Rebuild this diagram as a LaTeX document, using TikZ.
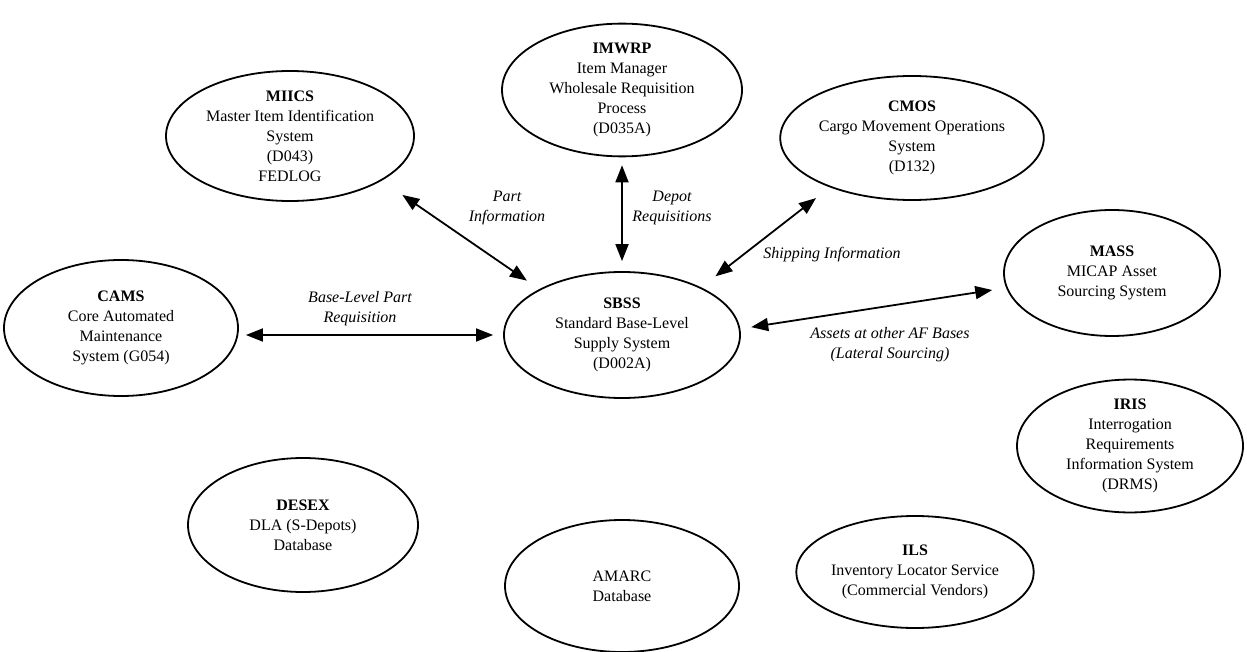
\documentclass[tikz,border=0pt]{standalone}
\usepackage{fontspec}
\setmainfont{Liberation Serif}
\usetikzlibrary{arrows.meta,shapes.geometric,calc}
\begin{document}
\begin{tikzpicture}[x=1pt,y=-1pt,
  sys/.style={ellipse,draw,line width=1.8pt,inner sep=0pt,align=center,font=\fontsize{16}{20}\selectfont},
  lbl/.style={align=center,inner sep=0pt,font=\fontsize{16}{20}\selectfont\itshape},
  arr/.style={line width=1.8pt,{Triangle[length=17pt,width=13pt]}-{Triangle[length=17pt,width=13pt]}}]
\useasboundingbox (0,0) rectangle (1247,652);
\node[sys,minimum width=248pt,minimum height=130pt] (miics) at (290,136) {\textbf{MIICS}\\Master Item Identification\\System\\(D043)\\FEDLOG};
\node[sys,minimum width=240pt,minimum height=124pt] (imwrp) at (622,90) {\textbf{IMWRP}\\Item Manager\\Wholesale Requisition\\Process\\(D035A)};
\node[sys,minimum width=230pt,minimum height=124pt] (cmos) at (912,138) {\textbf{CMOS}\\Cargo Movement Operations\\System\\(D132)};
\node[sys,minimum width=234pt,minimum height=136pt] (cams) at (121,328) {\textbf{CAMS}\\Core Automated\\Maintenance\\System (G054)};
\node[sys,minimum width=236pt,minimum height=126pt] (sbss) at (622,335) {\textbf{SBSS}\\Standard Base-Level\\Supply System\\(D002A)};
\node[sys,minimum width=216pt,minimum height=126pt] (mass) at (1112,273) {\textbf{MASS}\\MICAP Asset\\Sourcing System};
\node[sys,minimum width=226pt,minimum height=130pt] (iris) at (1130,446) {\textbf{IRIS}\\Interrogation\\Requirements\\Information System\\(DRMS)};
\node[sys,minimum width=230pt,minimum height=134pt] (desex) at (303,525) {\textbf{DESEX}\\DLA (S-Depots)\\Database};
\node[sys,minimum width=234pt,minimum height=132pt] (amarc) at (622,586) {AMARC\\Database};
\node[sys,minimum width=224pt,minimum height=112pt] (ils) at (915,572) {\textbf{ILS}\\Inventory Locator Service\\(Commercial Vendors)};

\draw[arr,shorten <=25pt,shorten >=15pt] (miics.-26.6) -- (sbss.151);
\draw[arr,shorten <=8pt,shorten >=10pt] (imwrp.south) -- (sbss.north);
\draw[arr,shorten <=17.5pt,shorten >=18pt] (cmos.-149.1) -- (sbss.31.2);
\draw[arr,shorten <=7pt,shorten >=10pt] (cams.east |- sbss.west) -- (sbss.west);
\draw[arr,shorten <=11pt,shorten >=14pt] (sbss.3.6) -- (mass.-172.9);

\node[lbl] (l1) at (507,208) {Part\\Information};
\node[lbl] (l2) at (672,208) {Depot\\Requisitions};
\node[lbl] (l3) at (832,255) {Shipping Information};
\node[lbl] (l4) at (360,309) {Base-Level Part\\Requisition};
\node[lbl] (l5) at (890,345) {Assets at other AF Bases\\(Lateral Sourcing)};
\end{tikzpicture}
\end{document}
